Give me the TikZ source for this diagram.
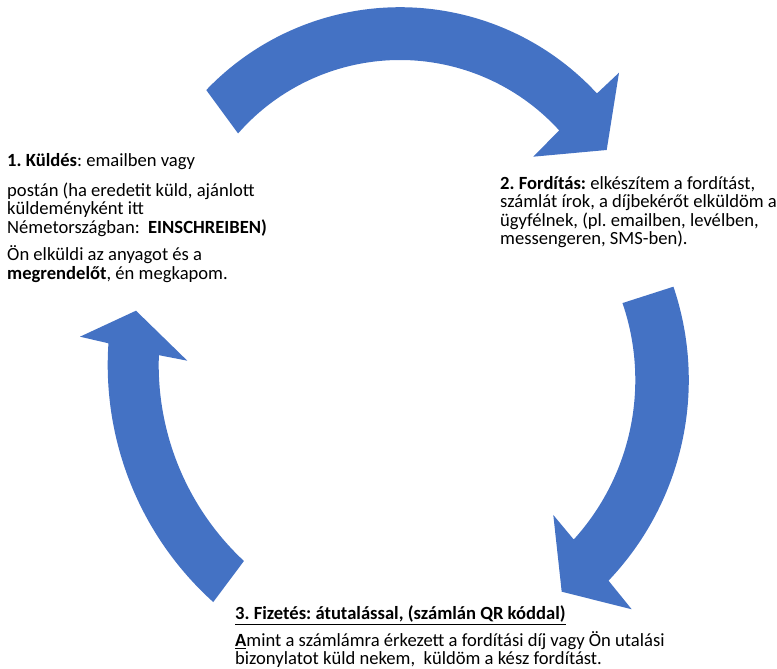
\documentclass[tikz,border=0pt]{standalone}
\usepackage{fontspec}
\setmainfont{Carlito}
\usepackage{tikz}
\usetikzlibrary{calc}
\definecolor{arrowblue}{HTML}{4472C4}
\newcommand{\steptextfont}{\fontsize{18.6}{18.6}\selectfont\frenchspacing}
\setlength{\lineskiplimit}{-100pt}
\tikzset{cyclearrow/.style={fill=arrowblue, draw=none}}
\tikzset{steptext/.style={align=left, inner sep=0pt, anchor=base west}}

\begin{document}
\begin{tikzpicture}[x=1pt, y=1pt]
	% Default action for each node
	\tikzstyle{every node}=[font=\steptextfont];

	\useasboundingbox (0,0) rectangle (777,669);

	\coordinate (topc) at (400,393.8);	\coordinate (rightc) at (397.8,289);	\coordinate (leftc) at (426.7,304);

	% Arrows
	\fill[cyclearrow] (topc) ++(136.3:268) arc[start angle=136.3, end angle=42.7, radius=268]
		-- (619,596.3) -- (606.7,519) -- (533.3,512.3)
		-- ($(topc)+(42.3:215.2)$) arc[start angle=42.3, end angle=138.8, radius=215.2] -- cycle;

	\fill[cyclearrow] (rightc) ++(18.7:291) arc[start angle=18.7, end angle=-43.6, radius=291]
		-- (631.7,59.7) -- (561.7,77.3) -- (553.3,154)
		-- ($(rightc)+(-42.2:237.5)$) arc[start angle=-42.2, end angle=18.9, radius=237.5] -- cycle;

	\fill[cyclearrow] (leftc) ++(228:319) arc[start angle=228, end angle=176.1, radius=319]
		-- (80,332.3) -- (136,358.3) -- (187.3,308.3)
		-- ($(leftc)+(177.9:268)$) arc[start angle=177.9, end angle=227, radius=268] -- cycle;

	% Steps (anchored at the baseline of the last line)
	\node[steptext] (send) at (7,389.7) {\textbf{1. Küldés}: emailben vagy\\[11pt]
		postán (ha eredetit küld, ajánlott\\
		küldeményként itt\\
		Németországban:\ \ \textbf{EINSCHREIBEN)}\\[8.5pt]
		Ön elküldi az anyagot és a\\
		\textbf{megrendelőt}, én megkapom.};

	\node[steptext] (translate) at (500,424) {\textbf{2. Fordítás:} elkészítem a fordítást,\\
		számlát írok, a díjbekérőt elküldöm a\\
		ügyfélnek, (pl. emailben, levélben,\\
		messengeren, SMS-ben).};

	\node[steptext] (pay) at (235,4) {\underline{\textbf{3. Fizetés: átutalással, (számlán QR kóddal)}}\\[8pt]
		\underline{\textbf{A}}mint a számlámra érkezett a fordítási díj vagy Ön utalási\\
		bizonylatot küld nekem,\ \ küldöm a kész fordítást.};
\end{tikzpicture}
\end{document}
